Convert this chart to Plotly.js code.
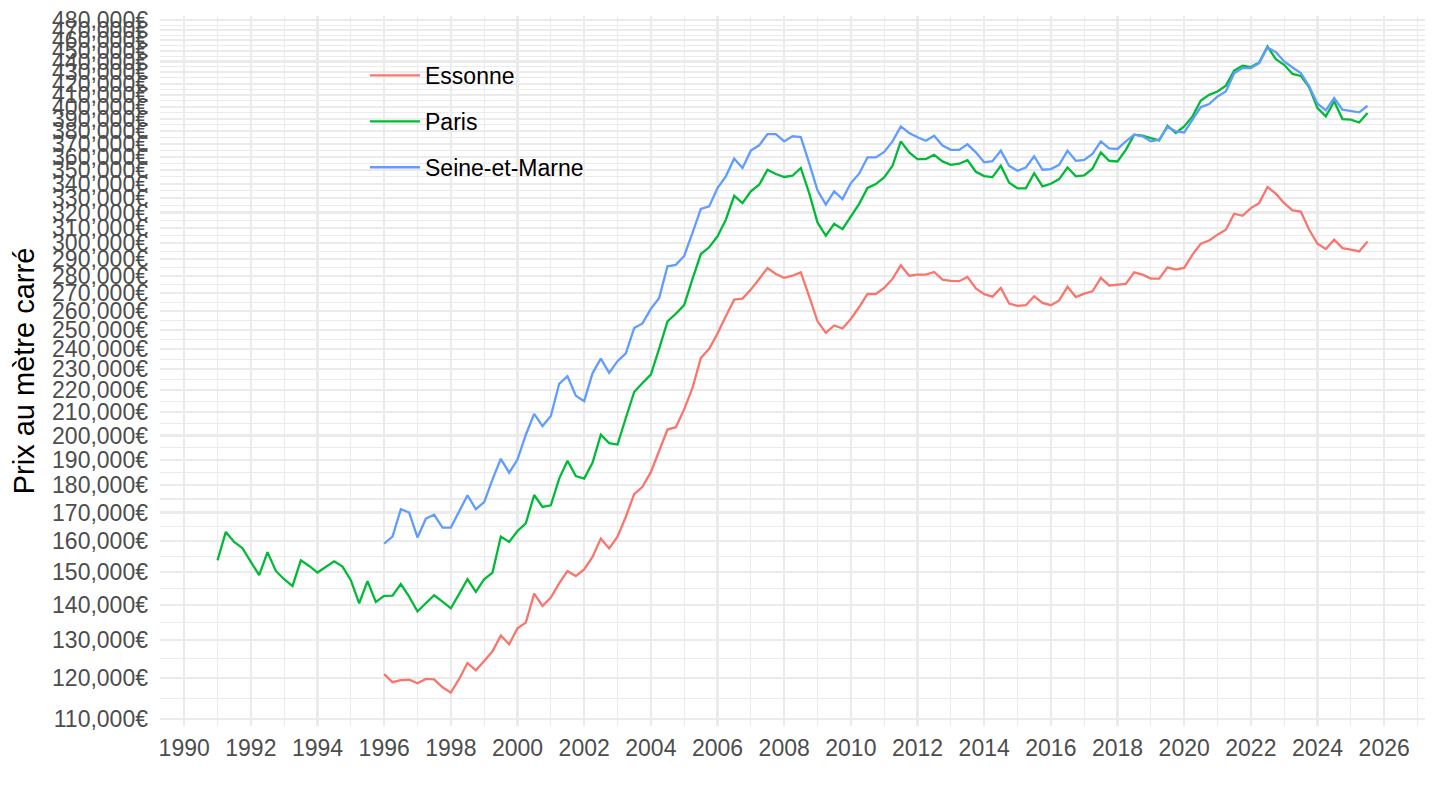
<!DOCTYPE html>
<html>
<head>
<meta charset="utf-8">
<script src="https://cdn.plot.ly/plotly-3.0.1.min.js"></script>
<style>html,body{margin:0;padding:0;background:#fff;}#chart{width:1440px;height:810px;}</style>
</head>
<body>
<div id="chart"></div>
<script>
// Quarterly series, values in thousands of euros
const parisStart = 1991;
const paris = [
 153.7,163.2,159.8,157.7, 153.2,149.0,156.4,150.3, 147.7,145.6,153.7,151.9, 149.8,151.6,153.4,151.7,
 147.4,140.4,147.1,140.8, 142.6,142.7,146.2,142.4, 138.0,140.4,142.8,140.9, 138.9,143.2,147.7,143.8,
 147.7,149.8,161.6,159.8, 163.5,166.2,176.4,172.0, 172.6,182.6,189.6,183.6, 182.6,188.8,200.3,196.8,
 196.2,207.5,219.2,223.4, 227.4,240.2,254.4,258.5, 263.3,278.2,293.2,297.4, 304.3,315.2,331.5,326.4,
 334.6,339.3,350.2,347.1, 344.9,345.8,351.5,333.4, 313.4,304.7,312.5,309.0, 317.4,325.9,337.0,339.8,
 344.6,353.1,371.8,363.3, 358.2,358.2,361.4,356.4, 353.9,354.7,357.4,348.7, 345.6,344.8,353.2,340.7,
 336.7,336.7,347.7,338.1, 340.0,343.4,351.9,345.4, 346.0,351.0,363.3,356.9, 356.4,365.2,377.1,376.4,
 374.3,372.5,384.3,378.4, 383.7,391.9,405.3,410.1, 413.0,418.2,431.7,436.0, 434.8,439.1,454.1,442.2,
 436.9,428.6,426.8,416.7, 398.8,391.9,404.4,389.7, 389.2,386.9,394.7
];
const otherStart = 1996;
const essonne = [
 120.9,118.9,119.4,119.5, 118.6,119.7,119.6,117.6, 116.3,119.7,123.8,121.9, 124.3,126.9,131.2,128.8,
 133.2,134.8,143.3,139.6, 142.1,146.4,150.3,148.7, 150.8,154.8,160.9,157.6, 161.6,168.5,176.7,179.5,
 185.1,193.5,202.5,203.5, 211.3,221.1,235.5,240.1, 248.0,257.2,266.3,266.9, 272.0,278.2,284.7,281.1,
 278.8,280.1,282.1,268.2, 254.4,248.3,252.2,250.6, 255.7,262.2,269.5,269.5, 273.0,278.2,286.3,280.1,
 280.7,280.7,282.3,277.8, 277.1,276.9,279.4,272.7, 269.4,268.0,273.0,264.1, 262.8,263.2,268.2,264.5,
 263.2,265.9,273.6,267.8, 269.7,271.0,278.8,274.4, 274.9,275.3,282.1,280.7, 278.4,278.4,285.1,283.7,
 284.7,292.8,299.6,301.7, 305.4,308.6,319.2,317.8, 323.0,326.4,337.7,333.0, 326.4,321.4,320.7,308.6,
 299.6,296.3,302.2,296.9, 295.9,294.8,301.1
];
const seineEtMarne = [
 159.2,161.6,171.2,170.0, 161.3,167.8,169.2,164.7, 164.7,170.6,176.3,171.2, 173.8,182.3,190.4,184.9,
 190.1,200.3,209.3,204.0, 208.4,223.0,226.6,217.5, 215.0,228.0,235.2,228.2, 233.9,237.8,250.8,253.3,
 261.2,267.3,285.7,286.6, 292.0,306.5,322.4,324.2, 337.0,345.4,358.5,351.5, 364.6,368.7,377.6,377.6,
 371.8,375.8,375.2,355.1, 335.3,325.4,334.6,329.2, 340.5,347.3,359.4,359.4, 363.6,371.8,383.7,378.4,
 375.0,372.3,376.3,368.5, 365.2,365.2,369.5,363.3, 355.7,356.6,364.6,353.1, 349.4,351.9,360.3,350.2,
 350.7,353.9,364.6,356.9, 357.6,362.1,371.8,366.4, 365.9,371.8,377.1,375.8, 371.8,373.1,383.2,379.7,
 378.9,389.2,399.7,402.2, 408.7,413.0,429.3,433.9, 433.9,438.5,453.2,448.8, 440.0,434.5,429.3,417.6,
 402.5,396.9,407.3,397.5, 396.1,395.3,400.8
];
const seriesNames = ["Essonne", "Paris", "Seine-et-Marne"];
const seriesColors = ["#F8766D", "#00BA38", "#619CFF"];
const xTickYears = [1990,1992,1994,1996,1998,2000,2002,2004,2006,2008,2010,2012,2014,2016,2018,2020,2022,2024,2026];
const yTickValues = [110000,120000,130000,140000,150000,160000,170000,180000,190000,200000,
 210000,220000,230000,240000,250000,260000,270000,280000,290000,300000,
 310000,320000,330000,340000,350000,360000,370000,380000,390000,400000,
 410000,420000,430000,440000,450000,460000,470000,480000];

function quarters(start, n){ const x=[]; for(let i=0;i<n;i++) x.push(start + i*0.25); return x; }
const seriesData = [
  {x: quarters(otherStart, essonne.length), y: essonne},
  {x: quarters(parisStart, paris.length), y: paris},
  {x: quarters(otherStart, seineEtMarne.length), y: seineEtMarne}
];
const traces = seriesData.map((s,i)=>({
  type:'scatter', mode:'lines', name: seriesNames[i],
  x: s.x, y: s.y.map(v=>v*1000),
  line:{color: seriesColors[i], width:2.3},
  legendgroup: 'g'+i, hoverinfo:'x+y+name'
}));

const yTickText = yTickValues.map(v => v.toLocaleString('en-US') + '€');
const yMinor = [];
for (let i=0;i<yTickValues.length-1;i++) yMinor.push(Math.sqrt(yTickValues[i]*yTickValues[i+1]));

const font = "Arial, 'Liberation Sans', Helvetica, sans-serif";
const layout = {
  width:1440, height:810,
  margin:{l:160, r:15, t:16, b:84},
  paper_bgcolor:'#fff', plot_bgcolor:'#fff',
  font:{family:font, color:'#4d4d4d'},
  showlegend:true,
  legend:{x:(365-160)/1265, xanchor:'left', y:1-(54-16)/710, yanchor:'top',
    font:{size:23, color:'#000', family:font}, bgcolor:'rgba(0,0,0,0)',
    tracegroupgap:13, itemwidth:50},
  xaxis:{
    range:[1989.275, 2027.225], tickmode:'array', tickvals:xTickYears,
    ticktext: xTickYears.map(String),
    showgrid:true, gridcolor:'#ebebeb', gridwidth:2.1, zeroline:false, showline:false,
    ticks:'', tickfont:{size:23, color:'#4d4d4d'}, ticklabelstandoff:6,
    minor:{dtick:1, tick0:1990, showgrid:true, gridcolor:'#ebebeb', gridwidth:1.05, ticks:''}
  },
  yaxis:{
    type:'log', range:[5.0350, 5.6851], tickmode:'array', tickvals:yTickValues, ticktext:yTickText,
    showgrid:true, gridcolor:'#ebebeb', gridwidth:2.1, zeroline:false, showline:false,
    ticks:'', tickfont:{size:23, color:'#4d4d4d'}, ticklabelstandoff:11,
    minor:{tickvals:yMinor, showgrid:true, gridcolor:'#ebebeb', gridwidth:1.05, ticks:''},
    title:{text:'Prix au mètre carré', font:{size:29, color:'#000'}, standoff:8}
  }
};
Plotly.newPlot('chart', traces, layout, {displayModeBar:false, staticPlot:true});
</script>
</body>
</html>
